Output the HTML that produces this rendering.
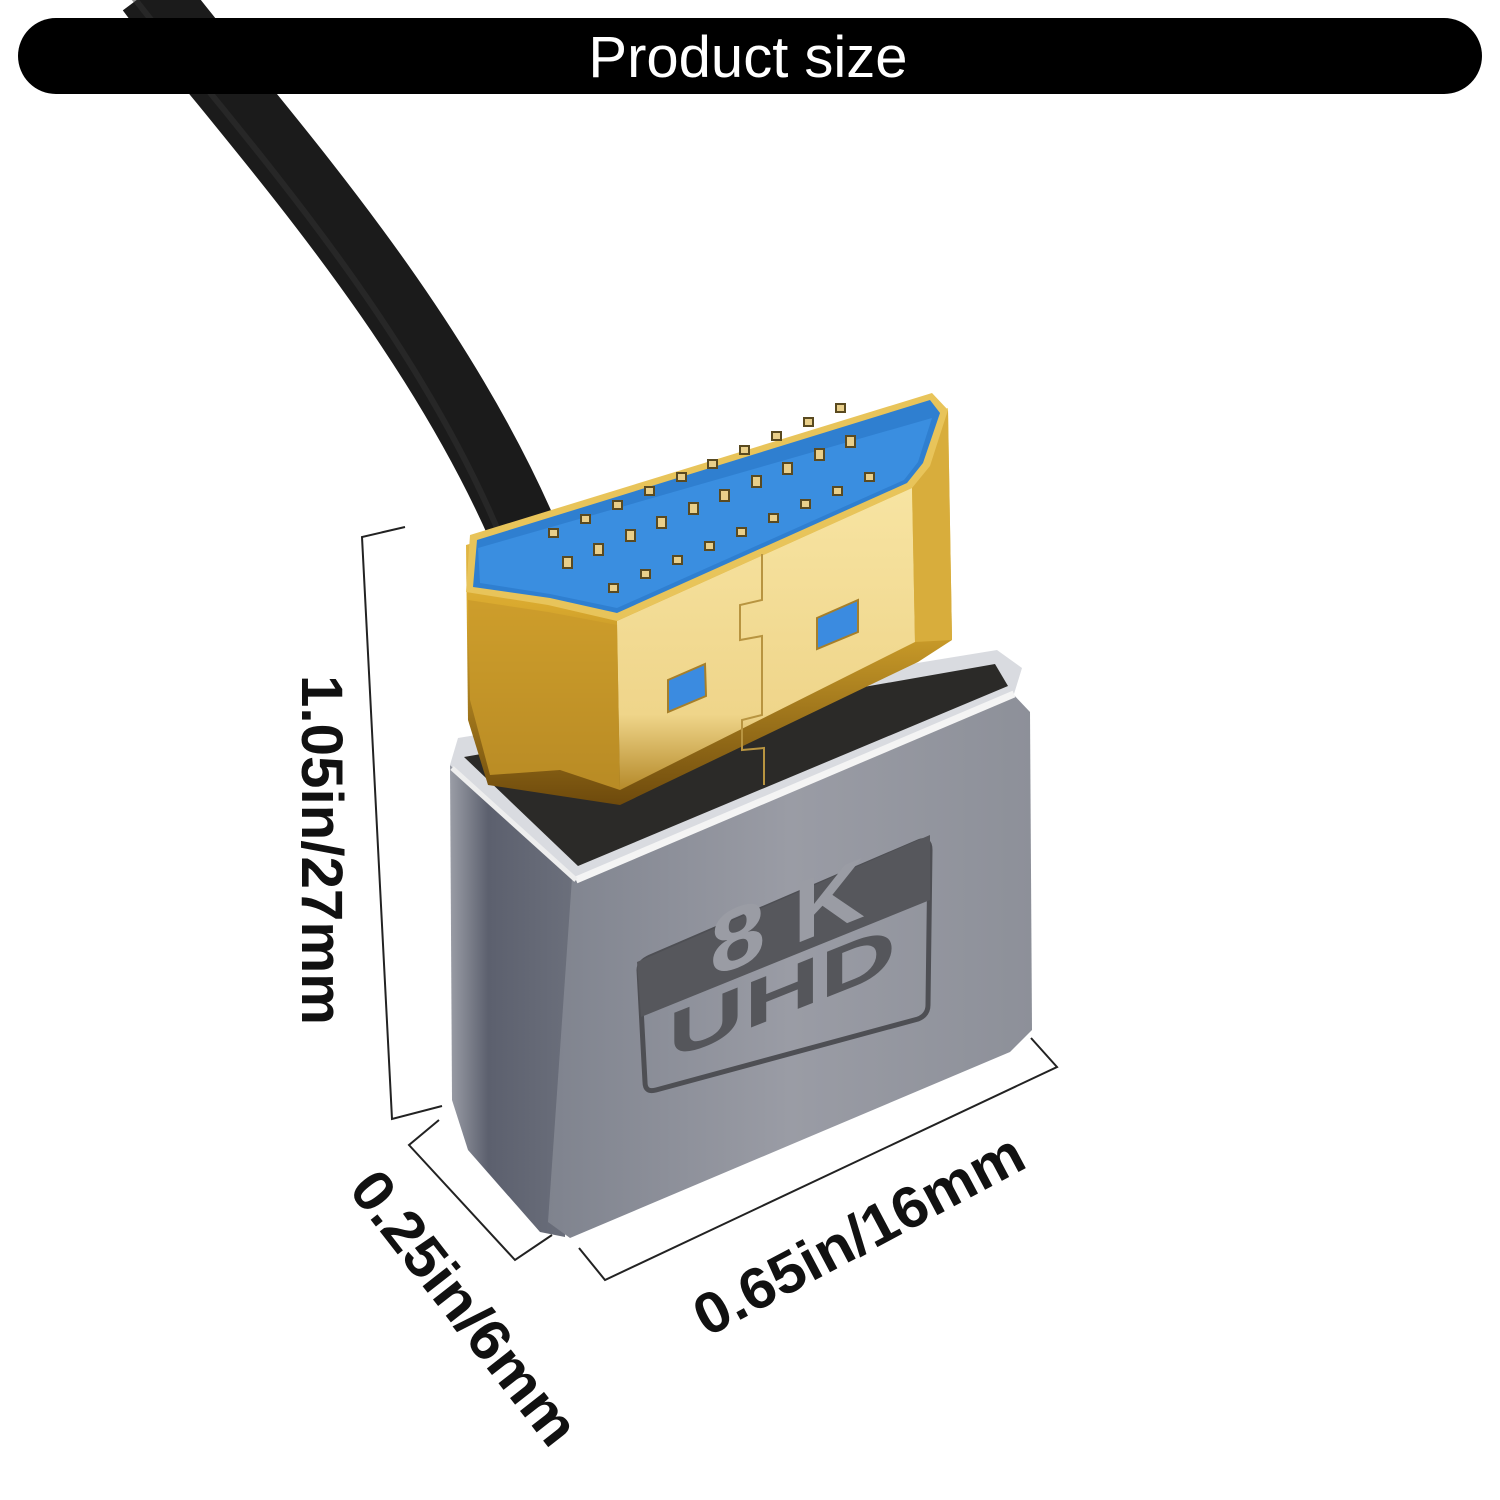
<!DOCTYPE html>
<html><head><meta charset="utf-8"><style>
html,body{margin:0;padding:0;background:#fff;}
svg{display:block;}
</style></head><body>
<svg width="1500" height="1500" viewBox="0 0 1500 1500" xmlns="http://www.w3.org/2000/svg">
<defs>
<linearGradient id="front" x1="0" y1="0" x2="1" y2="0">
<stop offset="0" stop-color="#7f838e"/><stop offset="0.5" stop-color="#9a9ca5"/><stop offset="1" stop-color="#8d9099"/>
</linearGradient>
<linearGradient id="side" x1="0" y1="0" x2="1" y2="0">
<stop offset="0" stop-color="#9a9da6"/><stop offset="0.3" stop-color="#5c606e"/><stop offset="1" stop-color="#6c707c"/>
</linearGradient>
<linearGradient id="goldside" x1="0" y1="0" x2="0" y2="1">
<stop offset="0" stop-color="#f3d77a"/><stop offset="0.5" stop-color="#d9a92e"/><stop offset="1" stop-color="#6e4a0c"/>
</linearGradient>
<linearGradient id="goldface" x1="0" y1="0" x2="0" y2="1">
<stop offset="0" stop-color="#f7e4a2"/><stop offset="0.75" stop-color="#efd58a"/><stop offset="1" stop-color="#b58a2a"/>
</linearGradient>
<clipPath id="darkband"><polygon points="637,962 930,835 930,900 641,1017"/></clipPath>
<clipPath id="lightband"><polygon points="641,1017 930,900 930,1020 645,1090"/></clipPath>
</defs>

<!-- cable -->
<path d="M150,-10 C240,110 440,320 535,560" fill="none" stroke="#1b1b1b" stroke-width="68" stroke-linecap="butt"/>
<path d="M128,-10 C218,110 418,320 510,560" fill="none" stroke="#333" stroke-width="6" opacity="0.5"/>

<!-- housing -->
<polygon points="450,765 577,878 565,1237 540,1232 468,1150 452,1100" fill="url(#side)"/>
<polygon points="572,878 1012,693 1030,712 1032,1030 1010,1052 570,1238 548,1222" fill="url(#front)"/>
<polygon points="450,765 458,738 997,650 1022,668 1014,694 576,880" fill="#d9dbe0"/>
<polygon points="464,757 995,664 1008,686 578,866" fill="#2b2a28"/>
<line x1="576" y1="880" x2="1014" y2="694" stroke="#f4f4f4" stroke-width="7"/>
<line x1="452" y1="768" x2="576" y2="880" stroke="#eeeeee" stroke-width="5"/>

<!-- gold plug -->
<polygon points="466,545 948,408 952,640 918,662 620,805 488,785 468,720" fill="url(#goldside)"/>
<polygon points="617,621 912,488 915,642 620,790" fill="url(#goldface)"/>
<polygon points="468,600 548,612 617,625 620,790 560,770 490,775 470,700" fill="#c99a2a" opacity="0.8"/>
<polygon points="912,488 948,410 952,640 915,642" fill="#d8ad3c"/>
<polygon points="466,592 548,605 617,621 912,488 930,466 948,410 932,393 470,535" fill="#e8c45a"/>
<polygon points="473,587 550,598 617,613 907,483 923,463 940,413 930,400 477,540" fill="#2f7fd0"/>
<polygon points="480,583 550,594 617,608 904,480 918,462 932,418 478,548" fill="#3a8ee0"/>
<polyline points="762,554 762,600 740,605 740,640 762,636 762,715 742,720 742,750 764,748 764,785" fill="none" stroke="#b89440" stroke-width="2"/>
<polygon points="668,680 705,664 706,696 668,712" fill="#3b8be0" stroke="#a67f2a" stroke-width="2"/>
<polygon points="817,618 858,600 858,632 817,649" fill="#3b8be0" stroke="#a67f2a" stroke-width="2"/>

<!-- pins -->
<g fill="#e9cf8a" stroke="#5a4a20" stroke-width="2">
<rect x="549" y="529" width="9" height="8"/><rect x="581" y="515" width="9" height="8"/><rect x="613" y="501" width="9" height="8"/><rect x="645" y="487" width="9" height="8"/><rect x="677" y="473" width="9" height="8"/><rect x="708" y="460" width="9" height="8"/><rect x="740" y="446" width="9" height="8"/><rect x="772" y="432" width="9" height="8"/><rect x="804" y="418" width="9" height="8"/><rect x="836" y="404" width="9" height="8"/>
<rect x="563" y="557" width="9" height="11"/><rect x="594" y="544" width="9" height="11"/><rect x="626" y="530" width="9" height="11"/><rect x="657" y="517" width="9" height="11"/><rect x="689" y="503" width="9" height="11"/><rect x="720" y="490" width="9" height="11"/><rect x="752" y="476" width="9" height="11"/><rect x="783" y="463" width="9" height="11"/><rect x="815" y="449" width="9" height="11"/><rect x="846" y="436" width="9" height="11"/>
<rect x="609" y="584" width="9" height="8"/><rect x="641" y="570" width="9" height="8"/><rect x="673" y="556" width="9" height="8"/><rect x="705" y="542" width="9" height="8"/><rect x="737" y="528" width="9" height="8"/><rect x="769" y="514" width="9" height="8"/><rect x="801" y="500" width="9" height="8"/><rect x="833" y="487" width="9" height="8"/><rect x="865" y="473" width="9" height="8"/>
</g>

<!-- label -->
<path d="M650,957 L918,842 Q930,837 930,850 L928,1005 Q928,1015 918,1019 L656,1090 Q645,1093 645,1082 L639,970 Q639,962 650,957 Z" fill="none" stroke="#4e4f54" stroke-width="5"/>
<polygon points="637,962 930,835 930,900 641,1017" fill="#56575c"/>
<text transform="matrix(1,-0.4,0,1,0,0)" x="710" y="1262" font-family="Liberation Sans, sans-serif" font-weight="bold" font-size="86" fill="#9a9ca4" textLength="155" lengthAdjust="spacingAndGlyphs">8 K</text>
<g clip-path="url(#darkband)"><text transform="matrix(1,-0.4,0,1,0,0)" x="668" y="1328" font-family="Liberation Sans, sans-serif" font-weight="bold" font-size="66" fill="#9a9ca4" textLength="228" lengthAdjust="spacingAndGlyphs">UHD</text></g>
<g clip-path="url(#lightband)"><text transform="matrix(1,-0.4,0,1,0,0)" x="668" y="1328" font-family="Liberation Sans, sans-serif" font-weight="bold" font-size="66" fill="#55565b" textLength="228" lengthAdjust="spacingAndGlyphs">UHD</text></g>

<!-- dimension lines -->
<g fill="none" stroke="#222" stroke-width="2">
<polyline points="405,527 362,537 392,1119 442,1106"/>
<polyline points="439,1120 409,1145 515,1260 552,1235"/>
<polyline points="579,1248 605,1280 1057,1067 1031,1038"/>
</g>
<g font-family="Liberation Sans, sans-serif" font-weight="bold" font-size="58" fill="#111">
<text transform="translate(302,850) rotate(90)" text-anchor="middle" textLength="350" lengthAdjust="spacingAndGlyphs">1.05in/27mm</text>
<text transform="translate(449,1320) rotate(52)" text-anchor="middle" textLength="330" lengthAdjust="spacingAndGlyphs">0.25in/6mm</text>
<text transform="translate(868,1252) rotate(-28)" text-anchor="middle" textLength="365" lengthAdjust="spacingAndGlyphs">0.65in/16mm</text>
</g>

<!-- title bar -->
<rect x="18" y="18" width="1464" height="76" rx="38" fill="#000"/>
<text x="748" y="77" text-anchor="middle" font-family="Liberation Sans, sans-serif" font-size="58" fill="#fff">Product size</text>
</svg>
</body></html>
